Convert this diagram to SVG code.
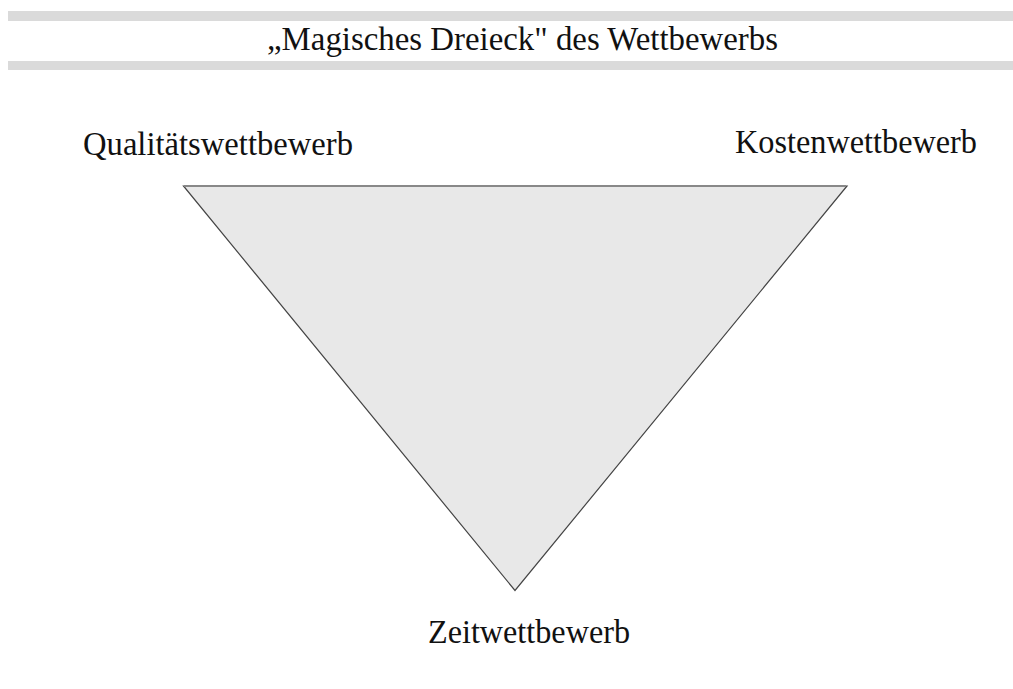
<svg xmlns="http://www.w3.org/2000/svg" width="1013" height="689" viewBox="0 0 1013 689">
<style>
.t{font-family:"Liberation Serif","Times New Roman",serif;fill:#111;font-size:33px;}
.bar{fill:#dadada;}
</style>
<rect width="1013" height="689" fill="#fff"/>
<g id="header">
<rect class="bar" x="8" y="11" width="1005" height="10"/>
<rect class="bar" x="8" y="61" width="1005" height="9"/>
<text class="t" x="267" y="50" textLength="511" lengthAdjust="spacingAndGlyphs">„Magisches Dreieck" des Wettbewerbs</text>
</g>
<g id="triangle">
<polygon points="183.5,186 847,186 515,590.5" fill="#e8e8e8" stroke="#444" stroke-width="1.2"/>
<line x1="184" y1="186" x2="846" y2="186" stroke="#888" stroke-width="2"/>
</g>
<g id="qualitaet"><text class="t" x="83" y="155" textLength="270" lengthAdjust="spacingAndGlyphs">Qualitätswettbewerb</text></g>
<g id="kosten"><text class="t" x="735" y="153" textLength="242" lengthAdjust="spacingAndGlyphs">Kostenwettbewerb</text></g>
<g id="zeit"><text class="t" x="428" y="643" textLength="202" lengthAdjust="spacingAndGlyphs">Zeitwettbewerb</text></g>
</svg>
